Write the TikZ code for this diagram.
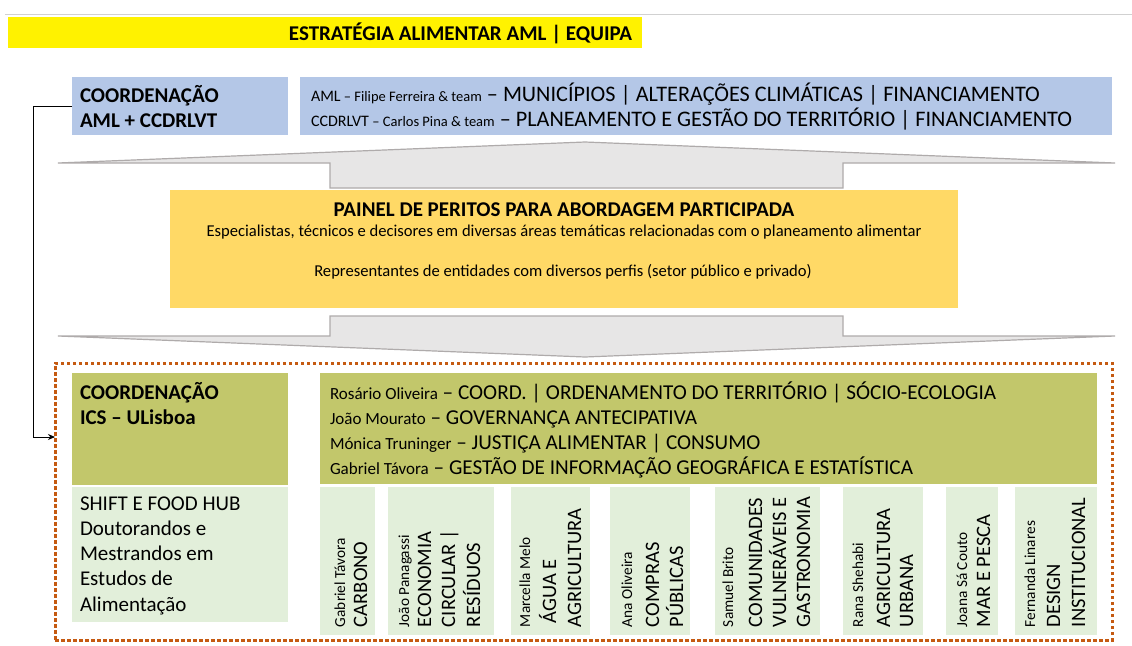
\documentclass[tikz,border=0pt]{standalone}
\usepackage{fontspec}
\setmainfont{Carlito}
\usetikzlibrary{arrows.meta}
\definecolor{titleyellow}{HTML}{FFF200}
\definecolor{blueb}{HTML}{B4C7E7}
\definecolor{goldb}{HTML}{FFD966}
\definecolor{oliveb}{HTML}{C2C76B}
\definecolor{lgreen}{HTML}{E2EFDA}
\definecolor{orangeb}{HTML}{C55A11}
\definecolor{arrowfill}{HTML}{E7E6E6}
\definecolor{arrowline}{HTML}{AFABAB}
\newcommand\orgname[2]{{\fontsize{16}{18}\selectfont #1}{\fontsize{14.5}{18}\selectfont #2}}
\newcommand\persname[1]{{\fontsize{17}{20}\selectfont #1}}
\begin{document}
\begin{tikzpicture}[x=1pt,y=-1pt,
  area/.style={inner sep=0pt, outer sep=0pt, draw=none, anchor=north west},
  txt/.style={inner sep=0pt, outer sep=0pt, anchor=base west, text=black},
  bluetxt/.style={txt, font=\fontsize{22.2}{26}\selectfont},
  teamtxt/.style={txt, font=\fontsize{21.2}{25}\selectfont},
  boldtxt/.style={txt, font=\bfseries\fontsize{21}{25}\selectfont},
  regtxt/.style={txt, font=\fontsize{21}{25}\selectfont},
  coltxt/.style={txt, rotate=90, font=\fontsize{20.5}{24}\selectfont},
  colname/.style={txt, rotate=90, font=\fontsize{15.3}{17}\selectfont},
  bigarrow/.style={fill=arrowfill, draw=arrowline, line width=1.2pt, line join=miter},
  connector/.style={draw=black, line width=0.9pt, -{Stealth[length=7pt,width=6pt]}}
]
\useasboundingbox (0,0) rectangle (1132,645);
\fill[white] (0,0) rectangle (1132,645);
\draw[black!18, line width=1pt] (5,14) -- (1132,14);

% title
\node[area, fill=titleyellow, minimum width=634pt, minimum height=31pt] (titlebar) at (8,17) {};
\node[txt, anchor=base, font=\bfseries\fontsize{21}{25}\selectfont] (title) at (460.5,40) {ESTRATÉGIA ALIMENTAR AML | EQUIPA};

% blue boxes
\node[area, fill=blueb, minimum width=216pt, minimum height=58pt] (bleft) at (72,77) {};
\node[area, fill=blueb, minimum width=812pt, minimum height=58pt] (bright) at (300,77) {};
\node[boldtxt] (bl1) at (80,102) {COORDENAÇÃO};
\node[boldtxt] (bl2) at (80,127) {AML + CCDRLVT};
\node[bluetxt] (br1) at (311,101) {\orgname{AML}{ – Filipe Ferreira \& team} – MUNICÍPIOS | ALTERAÇÕES CLIMÁTICAS | FINANCIAMENTO};
\node[bluetxt] (br2) at (311,126) {\orgname{CCDRLVT}{ – Carlos Pina \& team} – PLANEAMENTO E GESTÃO DO TERRITÓRIO | FINANCIAMENTO};

% up arrow
\draw[bigarrow] (58,163) -- (585,142) -- (1115,163) -- (843,163) -- (843,188) -- (330,188) -- (330,163) -- cycle;

% panel
\node[area, fill=goldb, minimum width=788pt, minimum height=118pt] (painel) at (170,190) {};
\node[txt, anchor=base, font=\bfseries\fontsize{21}{25}\selectfont] (p1) at (564,216) {PAINEL DE PERITOS PARA ABORDAGEM PARTICIPADA};
\node[txt, anchor=base, font=\fontsize{16.6}{20}\selectfont] (p2) at (564,236) {Especialistas, técnicos e decisores em diversas áreas temáticas relacionadas com o planeamento alimentar};
\node[txt, anchor=base, font=\fontsize{16.6}{20}\selectfont] (p3) at (563,276) {Representantes de entidades com diversos perfis (setor público e privado)};

% down arrow
\draw[bigarrow] (330,316) -- (843,316) -- (843,336) -- (1115,336) -- (585,357) -- (58,336) -- (330,336) -- cycle;

% team frame
\node[area, draw=orangeb, line width=3pt, dash pattern=on 3.5pt off 2.5pt, minimum width=1057pt, minimum height=277pt] (team) at (55,363) {};
\coordinate (teamin) at (55,437);
\draw[connector] (bleft.west) -- ++(-39,0) |- (teamin);

% ICS coordination
\node[area, fill=oliveb, minimum width=216pt, minimum height=112pt] (ics) at (72,373) {};
\node[boldtxt] (ics1) at (80,399) {COORDENAÇÃO};
\node[boldtxt] (ics2) at (80,424) {ICS – ULisboa};
\node[area, fill=lgreen, minimum width=216pt, minimum height=135pt] (shift) at (72,487) {};
\node[regtxt] (s1) at (80,510) {SHIFT E FOOD HUB};
\node[regtxt] (s2) at (80,535) {Doutorandos e};
\node[regtxt] (s3) at (80,560) {Mestrandos em};
\node[regtxt] (s4) at (80,585) {Estudos de};
\node[regtxt] (s5) at (80,611) {Alimentação};

% ICS team
\node[area, fill=oliveb, minimum width=777pt, minimum height=111pt] (icsteam) at (320,373) {};
\node[teamtxt] (t1) at (330,399) {\persname{Rosário Oliveira} – COORD. | ORDENAMENTO DO TERRITÓRIO | SÓCIO-ECOLOGIA};
\node[teamtxt] (t2) at (330,424) {\persname{João Mourato} – GOVERNANÇA ANTECIPATIVA};
\node[teamtxt] (t3) at (330,449) {\persname{Mónica Truninger} – JUSTIÇA ALIMENTAR | CONSUMO};
\node[teamtxt] (t4) at (330,474) {\persname{Gabriel Távora} – GESTÃO DE INFORMAÇÃO GEOGRÁFICA E ESTATÍSTICA};

% columns
\node[area, fill=lgreen, minimum width=55pt, minimum height=148pt] (col1) at (320,487) {};
\node[area, fill=lgreen, minimum width=106pt, minimum height=148pt] (col2) at (388,487) {};
\node[area, fill=lgreen, minimum width=79pt, minimum height=148pt] (col3) at (511,487) {};
\node[area, fill=lgreen, minimum width=80pt, minimum height=148pt] (col4) at (610,487) {};
\node[area, fill=lgreen, minimum width=105pt, minimum height=148pt] (col5) at (715,487) {};
\node[area, fill=lgreen, minimum width=80pt, minimum height=148pt] (col6) at (843,487) {};
\node[area, fill=lgreen, minimum width=52pt, minimum height=148pt] (col7) at (946,487) {};
\node[area, fill=lgreen, minimum width=82pt, minimum height=148pt] (col8) at (1015,487) {};

\node[colname] (c1a) at (345,627) {Gabriel Távora};
\node[coltxt] (c1b) at (367,627) {CARBONO};

\node[colname] (c2a) at (409,627) {João Panagassi};
\node[coltxt] (c2b) at (431,627) {ECONOMIA};
\node[coltxt] (c2c) at (455,627) {CIRCULAR |};
\node[coltxt] (c2d) at (480,627) {RESÍDUOS};

\node[colname] (c3a) at (530,627) {Marcella Melo};
\node[coltxt] (c3b) at (556,623) {ÁGUA E};
\node[coltxt] (c3c) at (581,627) {AGRICULTURA};

\node[colname] (c4a) at (632,627) {Ana Oliveira};
\node[coltxt] (c4b) at (659,627) {COMPRAS};
\node[coltxt] (c4c) at (683,627) {PÚBLICAS};

\node[colname] (c5a) at (733,627) {Samuel Brito};
\node[coltxt] (c5b) at (762,627) {COMUNIDADES};
\node[coltxt] (c5c) at (786,627) {VULNERÁVEIS E};
\node[coltxt] (c5d) at (810,627) {GASTRONOMIA};

\node[colname] (c6a) at (863,627) {Rana Shehabi};
\node[coltxt] (c6b) at (890,627) {AGRICULTURA};
\node[coltxt] (c6c) at (913,627) {URBANA};

\node[colname] (c7a) at (967,627) {Joana Sá Couto};
\node[coltxt] (c7b) at (990,627) {MAR E PESCA};

\node[colname] (c8a) at (1035,627) {Fernanda Linares};
\node[coltxt] (c8b) at (1060,627) {DESIGN};
\node[coltxt] (c8c) at (1085,627) {INSTITUCIONAL};
\end{tikzpicture}
\end{document}
